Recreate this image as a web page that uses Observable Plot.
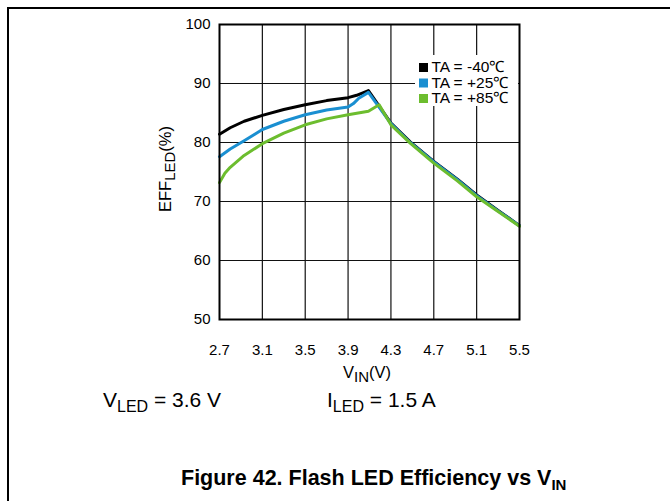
<!DOCTYPE html>
<html>
<head>
<meta charset="utf-8">
<script src="https://cdn.jsdelivr.net/npm/d3@7"></script>
<script src="https://cdn.jsdelivr.net/npm/@observablehq/plot@0.6"></script>
<style>
  html, body { margin: 0; padding: 0; background: #fff; }
  #wrap { position: relative; width: 670px; height: 501px; overflow: hidden; background: #fff; }
  #border { position: absolute; left: 7px; top: 7px; width: 700px; height: 600px;
            border-top: 2px solid #000; border-left: 2px solid #000; }
  #wrap svg { position: absolute; left: 0; top: 0; }
</style>
</head>
<body>
<div id="wrap"><div id="border"></div></div>
<script>
// ---- data ----
const xTicks = [2.7, 3.1, 3.5, 3.9, 4.3, 4.7, 5.1, 5.5];
const yTicks = [50, 60, 70, 80, 90, 100];

const seriesNames = ["TA = -40℃", "TA = +25℃", "TA = +85℃"];
const seriesColors = ["#000000", "#1a8fd1", "#6cbd2e"];

const vinM40 = [2.7, 2.8, 2.93, 3.1, 3.3, 3.5, 3.7, 3.9, 3.98, 4.09, 4.3, 4.48, 4.7, 4.92, 5.1, 5.3, 5.5];
const effM40 = [81.4, 82.5, 83.6, 84.6, 85.6, 86.4, 87.1, 87.6, 88.0, 88.8, 83.3, 80.1, 76.8, 73.8, 71.1, 68.5, 65.9];

const vinP25 = [2.7, 2.8, 2.93, 3.1, 3.3, 3.5, 3.7, 3.9, 3.95, 4.0, 4.09, 4.3, 4.48, 4.7, 4.92, 5.1, 5.3, 5.5];
const effP25 = [77.6, 78.9, 80.3, 82.2, 83.6, 84.7, 85.5, 86.0, 86.6, 87.5, 88.5, 83.2, 80.0, 76.7, 73.7, 71.0, 68.4, 65.9];

const vinP85 = [2.7, 2.75, 2.8, 2.93, 3.1, 3.3, 3.5, 3.7, 3.9, 4.09, 4.19, 4.3, 4.48, 4.7, 4.92, 5.1, 5.3, 5.5];
const effP85 = [73.2, 74.8, 75.8, 77.8, 79.8, 81.6, 83.0, 84.0, 84.7, 85.3, 86.4, 83.0, 79.9, 76.5, 73.5, 70.8, 68.3, 65.8];

const rows = [];
[[vinM40, effM40], [vinP25, effP25], [vinP85, effP85]].forEach(([vs, es], i) => {
  vs.forEach((v, j) => rows.push({series: seriesNames[i], v, eff: es[j]}));
});

const FONT = "'Liberation Sans', Arial, Helvetica, sans-serif";

const chart = Plot.plot({
  width: 670,
  height: 501,
  marginLeft: 219,
  marginRight: 151,
  marginTop: 24,
  marginBottom: 182,
  style: {fontFamily: FONT, fontSize: "15px", color: "#000", background: "transparent"},
  x: {domain: [2.7, 5.5]},
  y: {domain: [50, 100]},
  color: {domain: seriesNames, range: seriesColors},
  marks: [
    Plot.gridX(xTicks.slice(1, -1), {stroke: "#111", strokeOpacity: 1, strokeWidth: 1.2}),
    Plot.gridY(yTicks.slice(1, -1), {stroke: "#111", strokeOpacity: 1, strokeWidth: 1.2}),
    Plot.axisX(xTicks, {tickSize: 0, tickPadding: 25, tickFormat: d => d.toFixed(1), fontSize: 15, label: null}),
    Plot.axisY(yTicks, {tickSize: 0, tickPadding: 9, fontSize: 15, label: null}),
    Plot.line(rows, {x: "v", y: "eff", z: "series", stroke: "series", strokeWidth: 3}),
    Plot.frame({stroke: "#000", strokeWidth: 2})
  ]
});

document.getElementById("wrap").appendChild(chart);

// ---- annotations ----
const svg = d3.select(chart);

function subText(x, y, parts, opts = {}) {
  const t = svg.append("text")
    .attr("x", x).attr("y", y)
    .attr("font-family", FONT)
    .attr("fill", "#000")
    .attr("font-weight", opts.bold ? "bold" : "normal")
    .attr("text-anchor", opts.anchor || "start");
  if (opts.transform) t.attr("transform", opts.transform);
  parts.forEach(p => {
    const s = t.append("tspan").text(p.t).attr("font-size", p.size);
    if (p.dy) s.attr("dy", p.dy);
  });
  return t;
}

// x axis label
subText(343, 378, [
  {t: "V", size: 16.5},
  {t: "IN", size: 15, dy: 4},
  {t: "(V)", size: 16.5, dy: -4}
]);

// y axis label (rotated)
subText(0, 0, [
  {t: "EFF", size: 16.5},
  {t: "LED", size: 15, dy: 4},
  {t: "(%)", size: 16.5, dy: -4}
], {anchor: "middle", transform: "translate(171,169) rotate(-90)"});

// conditions
subText(103, 407, [
  {t: "V", size: 21},
  {t: "LED", size: 16, dy: 5},
  {t: " = 3.6 V", size: 21, dy: -5}
]);
subText(327, 407, [
  {t: "I", size: 21},
  {t: "LED", size: 16, dy: 5},
  {t: " = 1.5 A", size: 21, dy: -5}
]);

// title
subText(181, 485, [
  {t: "Figure 42. Flash LED Efficiency vs V", size: 21.5},
  {t: "IN", size: 15, dy: 5}
], {bold: true});

// legend
const lg = svg.append("g").attr("text-anchor", "start");
lg.append("rect").attr("x", 415).attr("y", 55).attr("width", 103).attr("height", 51).attr("fill", "#ffffff");
const baselines = [72, 87.5, 103];
seriesNames.forEach((name, i) => {
  lg.append("rect").attr("x", 419).attr("y", baselines[i] - 9).attr("width", 9).attr("height", 9)
    .attr("fill", seriesColors[i]);
  lg.append("text").attr("x", 431.5).attr("y", baselines[i])
    .attr("text-anchor", "start")
    .attr("font-family", FONT).attr("font-size", 15.5).attr("fill", "#000").text(name);
});
</script>
</body>
</html>
